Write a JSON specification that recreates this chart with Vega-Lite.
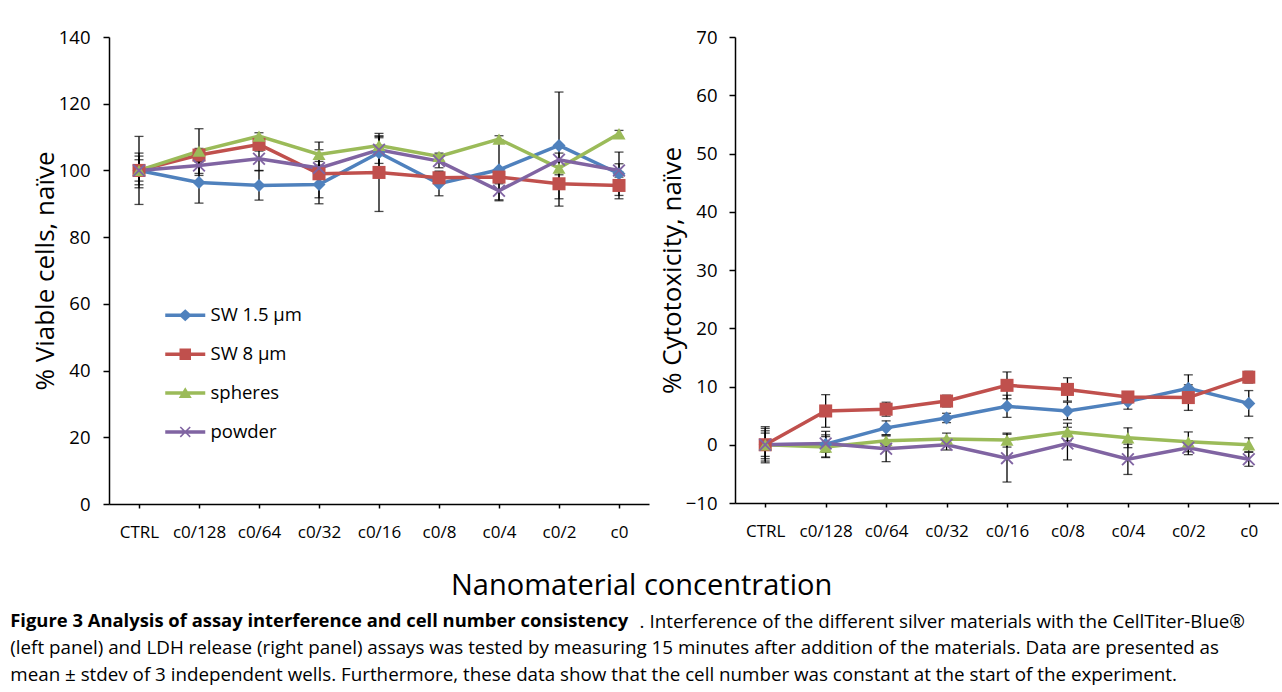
{
  "$schema": "https://vega.github.io/schema/vega-lite/v6.json",
  "padding": {"left": 10, "top": 28, "right": 0, "bottom": 0},
  "background": "white",
  "config": {
    "view": {"stroke": null},
    "font": "Open Sans",
    "axis": {
      "domainColor": "black", "tickColor": "black", "labelColor": "black", "titleColor": "black",
      "labelFont": "Open Sans", "titleFont": "Open Sans", "labelFontSize": 18.5, "titleFontSize": 26,
      "titleFontWeight": "normal", "grid": false, "domainWidth": 1.5, "tickWidth": 1.5
    },
    "axisX": {"labelAngle": 0, "tickSize": 4, "labelPadding": 16, "title": null, "labelFontSize": 17},
    "axisY": {"tickSize": 6, "labelPadding": 13, "titlePadding": 0}
  },
  "datasets": {
    "left": [
      {"conc": "CTRL", "series": "SW 1.5 µm", "mean": 100, "sd": 10.2},
      {"conc": "c0/128", "series": "SW 1.5 µm", "mean": 96.4, "sd": 6.2},
      {"conc": "c0/64", "series": "SW 1.5 µm", "mean": 95.5, "sd": 4.4},
      {"conc": "c0/32", "series": "SW 1.5 µm", "mean": 95.8, "sd": 5.8},
      {"conc": "c0/16", "series": "SW 1.5 µm", "mean": 105.3, "sd": 4.5},
      {"conc": "c0/8", "series": "SW 1.5 µm", "mean": 96.0, "sd": 3.6},
      {"conc": "c0/4", "series": "SW 1.5 µm", "mean": 100.2, "sd": 9.0},
      {"conc": "c0/2", "series": "SW 1.5 µm", "mean": 107.5, "sd": 16.0},
      {"conc": "c0", "series": "SW 1.5 µm", "mean": 99.0, "sd": 6.5},
      {"conc": "CTRL", "series": "SW 8 µm", "mean": 100, "sd": 5.2},
      {"conc": "c0/128", "series": "SW 8 µm", "mean": 104.6, "sd": 2.0},
      {"conc": "c0/64", "series": "SW 8 µm", "mean": 107.8, "sd": 2.0},
      {"conc": "c0/32", "series": "SW 8 µm", "mean": 99.0, "sd": 7.2},
      {"conc": "c0/16", "series": "SW 8 µm", "mean": 99.4, "sd": 11.7},
      {"conc": "c0/8", "series": "SW 8 µm", "mean": 97.8, "sd": 2.0},
      {"conc": "c0/4", "series": "SW 8 µm", "mean": 98.0, "sd": 2.0},
      {"conc": "c0/2", "series": "SW 8 µm", "mean": 96.0, "sd": 6.7},
      {"conc": "c0", "series": "SW 8 µm", "mean": 95.5, "sd": 4.0},
      {"conc": "CTRL", "series": "spheres", "mean": 100, "sd": 4.3},
      {"conc": "c0/128", "series": "spheres", "mean": 105.8, "sd": 6.7},
      {"conc": "c0/64", "series": "spheres", "mean": 110.3, "sd": 1.0},
      {"conc": "c0/32", "series": "spheres", "mean": 104.8, "sd": 3.7},
      {"conc": "c0/16", "series": "spheres", "mean": 107.5, "sd": 2.8},
      {"conc": "c0/8", "series": "spheres", "mean": 104.2, "sd": 1.0},
      {"conc": "c0/4", "series": "spheres", "mean": 109.4, "sd": 1.0},
      {"conc": "c0/2", "series": "spheres", "mean": 100.7, "sd": 2.0},
      {"conc": "c0", "series": "spheres", "mean": 111.0, "sd": 1.0},
      {"conc": "CTRL", "series": "powder", "mean": 100, "sd": 3.2},
      {"conc": "c0/128", "series": "powder", "mean": 101.5, "sd": 3.0},
      {"conc": "c0/64", "series": "powder", "mean": 103.5, "sd": 3.5},
      {"conc": "c0/32", "series": "powder", "mean": 100.7, "sd": 2.0},
      {"conc": "c0/16", "series": "powder", "mean": 106.2, "sd": 4.1},
      {"conc": "c0/8", "series": "powder", "mean": 102.8, "sd": 2.0},
      {"conc": "c0/4", "series": "powder", "mean": 93.9, "sd": 3.0},
      {"conc": "c0/2", "series": "powder", "mean": 103.2, "sd": 2.0},
      {"conc": "c0", "series": "powder", "mean": 100.0, "sd": 2.0}
    ],
    "right": [
      {"conc": "CTRL", "series": "SW 1.5 µm", "mean": 0, "sd": 3.1},
      {"conc": "c0/128", "series": "SW 1.5 µm", "mean": 0.1, "sd": 2.2},
      {"conc": "c0/64", "series": "SW 1.5 µm", "mean": 2.9, "sd": 1.2},
      {"conc": "c0/32", "series": "SW 1.5 µm", "mean": 4.6, "sd": 0.8},
      {"conc": "c0/16", "series": "SW 1.5 µm", "mean": 6.6, "sd": 1.9},
      {"conc": "c0/8", "series": "SW 1.5 µm", "mean": 5.8, "sd": 1.5},
      {"conc": "c0/4", "series": "SW 1.5 µm", "mean": 7.4, "sd": 1.3},
      {"conc": "c0/2", "series": "SW 1.5 µm", "mean": 9.7, "sd": 2.3},
      {"conc": "c0", "series": "SW 1.5 µm", "mean": 7.1, "sd": 2.2},
      {"conc": "CTRL", "series": "SW 8 µm", "mean": 0, "sd": 2.8},
      {"conc": "c0/128", "series": "SW 8 µm", "mean": 5.8, "sd": 2.8},
      {"conc": "c0/64", "series": "SW 8 µm", "mean": 6.1, "sd": 1.2},
      {"conc": "c0/32", "series": "SW 8 µm", "mean": 7.5, "sd": 1.0},
      {"conc": "c0/16", "series": "SW 8 µm", "mean": 10.2, "sd": 2.3},
      {"conc": "c0/8", "series": "SW 8 µm", "mean": 9.5, "sd": 2.0},
      {"conc": "c0/4", "series": "SW 8 µm", "mean": 8.2, "sd": 0.5},
      {"conc": "c0/2", "series": "SW 8 µm", "mean": 8.1, "sd": 2.2},
      {"conc": "c0", "series": "SW 8 µm", "mean": 11.6, "sd": 1.0},
      {"conc": "CTRL", "series": "spheres", "mean": 0, "sd": 2.4},
      {"conc": "c0/128", "series": "spheres", "mean": -0.4, "sd": 1.8},
      {"conc": "c0/64", "series": "spheres", "mean": 0.7, "sd": 1.0},
      {"conc": "c0/32", "series": "spheres", "mean": 1.0, "sd": 1.0},
      {"conc": "c0/16", "series": "spheres", "mean": 0.8, "sd": 1.2},
      {"conc": "c0/8", "series": "spheres", "mean": 2.2, "sd": 1.5},
      {"conc": "c0/4", "series": "spheres", "mean": 1.2, "sd": 1.7},
      {"conc": "c0/2", "series": "spheres", "mean": 0.5, "sd": 1.7},
      {"conc": "c0", "series": "spheres", "mean": 0.0, "sd": 1.2},
      {"conc": "CTRL", "series": "powder", "mean": 0, "sd": 2.0},
      {"conc": "c0/128", "series": "powder", "mean": 0.2, "sd": 1.5},
      {"conc": "c0/64", "series": "powder", "mean": -0.7, "sd": 2.2},
      {"conc": "c0/32", "series": "powder", "mean": 0.0, "sd": 0.9},
      {"conc": "c0/16", "series": "powder", "mean": -2.3, "sd": 4.1},
      {"conc": "c0/8", "series": "powder", "mean": 0.2, "sd": 2.8},
      {"conc": "c0/4", "series": "powder", "mean": -2.5, "sd": 2.6},
      {"conc": "c0/2", "series": "powder", "mean": -0.5, "sd": 1.2},
      {"conc": "c0", "series": "powder", "mean": -2.5, "sd": 1.2}
    ]
  },
  "title": {
    "text": "Figure 3 Analysis of assay interference and cell number consistency",
    "orient": "bottom", "anchor": "start", "font": "Open Sans", "fontSize": 18.4, "fontWeight": "bold",
    "color": "black", "dx": -22, "offset": 10.5,
    "subtitle": [
      "\u2060\u00a0\u00a0\u00a0\u00a0\u00a0\u00a0\u00a0\u00a0\u00a0\u00a0\u00a0\u00a0\u00a0\u00a0\u00a0\u00a0\u00a0\u00a0\u00a0\u00a0\u00a0\u00a0\u00a0\u00a0\u00a0\u00a0\u00a0\u00a0\u00a0\u00a0\u00a0\u00a0\u00a0\u00a0\u00a0\u00a0\u00a0\u00a0\u00a0\u00a0\u00a0\u00a0\u00a0\u00a0\u00a0\u00a0\u00a0\u00a0\u00a0\u00a0\u00a0\u00a0\u00a0\u00a0\u00a0\u00a0\u00a0\u00a0\u00a0\u00a0\u00a0\u00a0\u00a0\u00a0\u00a0\u00a0\u00a0\u00a0\u00a0\u00a0\u00a0\u00a0\u00a0\u00a0\u00a0\u00a0\u00a0\u00a0\u00a0\u00a0\u00a0\u00a0\u00a0\u00a0\u00a0\u00a0\u00a0\u00a0\u00a0\u00a0\u00a0\u00a0\u00a0\u00a0\u00a0\u00a0\u00a0\u00a0\u00a0\u00a0\u00a0\u00a0\u00a0\u00a0\u00a0\u00a0\u00a0\u00a0\u00a0\u00a0\u00a0\u00a0\u00a0\u00a0\u00a0\u00a0\u00a0\u00a0\u00a0\u00a0\u00a0\u00a0\u00a0\u00a0\u00a0\u00a0\u00a0\u00a0\u00a0. Interference of the different silver materials with the CellTiter-Blue®",
      "(left panel) and LDH release (right panel) assays was tested by measuring 15 minutes after addition of the materials. Data are presented as",
      "mean ± stdev of 3 independent wells. Furthermore, these data show that the cell number was constant at the start of the experiment."
    ],
    "subtitleFont": "Open Sans", "subtitleFontSize": 18.8, "subtitleColor": "black",
    "subtitleLineHeight": 26.5, "subtitlePadding": -17.4
  },
  "vconcat": [
    {
      "title": {"text": "Nanomaterial concentration", "orient": "bottom", "anchor": "middle", "fontSize": 29,
        "font": "Open Sans", "fontWeight": "normal", "color": "black", "offset": 32, "dx": -14},
      "spacing": 10,
      "hconcat": [
        {
          "width": 540, "height": 467,
          "data": {"name": "left"},
          "encoding": {
            "x": {"field": "conc", "type": "ordinal",
              "sort": ["CTRL", "c0/128", "c0/64", "c0/32", "c0/16", "c0/8", "c0/4", "c0/2", "c0"],
              "scale": {"type": "point", "padding": 0.5}},
            "y": {"field": "mean", "type": "quantitative",
              "scale": {"domain": [0, 140]},
              "axis": {"values": [0, 20, 40, 60, 80, 100, 120, 140], "title": "% Viable cells, naïve"}}
          },
          "layer": [
            {"mark": {"type": "errorbar", "color": "black", "thickness": 1.3, "ticks": {"size": 9}},
              "encoding": {"yError": {"field": "sd"}, "detail": {"field": "series"}}},
            {"mark": {"type": "line", "strokeWidth": 3.5},
              "encoding": {"color": {"field": "series", "type": "nominal",
                "scale": {"domain": ["SW 1.5 µm", "SW 8 µm", "spheres", "powder"], "range": ["#4F81BD", "#C0504D", "#9BBB59", "#8064A2"]},
                "legend": null}}},
            {"mark": {"type": "point", "filled": true, "opacity": 1, "size": 170},
              "encoding": {
                "color": {"field": "series", "type": "nominal",
                  "scale": {"domain": ["SW 1.5 µm", "SW 8 µm", "spheres", "powder"], "range": ["#4F81BD", "#C0504D", "#9BBB59", "#8064A2"]},
                  "legend": null},
                "shape": {"field": "series", "type": "nominal",
                  "scale": {"domain": ["SW 1.5 µm", "SW 8 µm", "spheres", "powder"],
                    "range": ["diamond", "square", "triangle-up", "M-1,-0.8L-0.8,-1L0,-0.2L0.8,-1L1,-0.8L0.2,0L1,0.8L0.8,1L0,0.2L-0.8,1L-1,0.8L-0.2,0Z"]},
                  "legend": null}}},
            {"mark": {"type": "point", "filled": true, "opacity": 0, "size": 100},
              "encoding": {
                "color": {"field": "series", "type": "nominal",
                  "scale": {"domain": ["SW 1.5 µm", "SW 8 µm", "spheres", "powder"], "range": ["#4F81BD", "#C0504D", "#9BBB59", "#8064A2"]},
                  "legend": {"orient": "none", "legendX": 67, "legendY": 269, "title": null, "labelFont": "Open Sans", "labelFontSize": 18.5, "labelColor": "black", "symbolSize": 100, "symbolStrokeWidth": 0, "symbolOpacity": 1, "rowPadding": 19.9, "labelOffset": 16}},
                "shape": {"field": "series", "type": "nominal",
                  "scale": {"domain": ["SW 1.5 µm", "SW 8 µm", "spheres", "powder"],
                    "range": [
                      "M-4,-0.35H4V0.35H-4Z M0,-1.2L1.3,0L0,1.2L-1.3,0Z",
                      "M-4,-0.35H4V0.35H-4Z M-1.15,-1.15H1.15V1.15H-1.15Z",
                      "M-4,-0.35H4V0.35H-4Z M0,-1.15L1.3,1L-1.3,1Z",
                      "M-4,-0.35H4V0.35H-4Z M-1.1,-0.88L-0.88,-1.1L0,-0.22L0.88,-1.1L1.1,-0.88L0.22,0L1.1,0.88L0.88,1.1L0,0.22L-0.88,1.1L-1.1,0.88L-0.22,0Z"
                    ]},
                  "legend": {"orient": "none", "legendX": 67, "legendY": 269, "title": null, "labelFont": "Open Sans", "labelFontSize": 18.5, "labelColor": "black", "symbolSize": 100, "symbolStrokeWidth": 0, "symbolOpacity": 1, "rowPadding": 19.9, "labelOffset": 16}}}}
          ],
          "resolve": {"scale": {"color": "independent", "shape": "independent"}}
        },
        {
          "width": 544, "height": 466,
          "data": {"name": "right"},
          "encoding": {
            "x": {"field": "conc", "type": "ordinal",
              "sort": ["CTRL", "c0/128", "c0/64", "c0/32", "c0/16", "c0/8", "c0/4", "c0/2", "c0"],
              "scale": {"type": "point", "padding": 0.5}},
            "y": {"field": "mean", "type": "quantitative",
              "scale": {"domain": [-10, 70]},
              "axis": {"values": [-10, 0, 10, 20, 30, 40, 50, 60, 70], "title": "% Cytotoxicity, naïve", "labelPadding": 12}}
          },
          "layer": [
            {"mark": {"type": "errorbar", "color": "black", "thickness": 1.3, "ticks": {"size": 9}},
              "encoding": {"yError": {"field": "sd"}, "detail": {"field": "series"}}},
            {"mark": {"type": "line", "strokeWidth": 3.5},
              "encoding": {"color": {"field": "series", "type": "nominal",
                "scale": {"domain": ["SW 1.5 µm", "SW 8 µm", "spheres", "powder"], "range": ["#4F81BD", "#C0504D", "#9BBB59", "#8064A2"]},
                "legend": null}}},
            {"mark": {"type": "point", "filled": true, "opacity": 1, "size": 170},
              "encoding": {
                "color": {"field": "series", "type": "nominal",
                  "scale": {"domain": ["SW 1.5 µm", "SW 8 µm", "spheres", "powder"], "range": ["#4F81BD", "#C0504D", "#9BBB59", "#8064A2"]},
                  "legend": null},
                "shape": {"field": "series", "type": "nominal",
                  "scale": {"domain": ["SW 1.5 µm", "SW 8 µm", "spheres", "powder"],
                    "range": ["diamond", "square", "triangle-up", "M-1,-0.8L-0.8,-1L0,-0.2L0.8,-1L1,-0.8L0.2,0L1,0.8L0.8,1L0,0.2L-0.8,1L-1,0.8L-0.2,0Z"]},
                  "legend": null}}}
          ]
        }
      ]
    }
  ]
}
